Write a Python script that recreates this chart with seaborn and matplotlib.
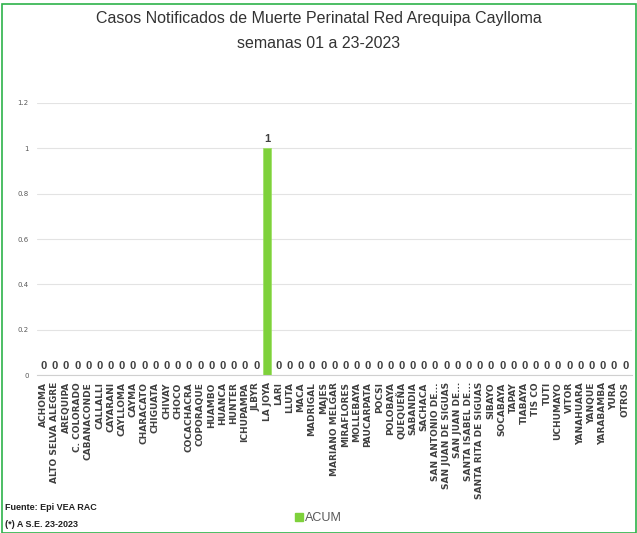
import numpy as np
import pandas as pd
import seaborn as sns
import matplotlib.pyplot as plt
from matplotlib.patches import Rectangle, Patch

# Data
distritos = ['ACHOMA', 'ALTO SELVA ALEGRE', 'AREQUIPA', 'C. COLORADO', 'CABANACONDE',
             'CALLALLI', 'CAYARANI', 'CAYLLOMA', 'CAYMA', 'CHARACATO', 'CHIGUATA',
             'CHIVAY', 'CHOCO', 'COCACHACRA', 'COPORAQUE', 'HUAMBO', 'HUANCA', 'HUNTER',
             'ICHUPAMPA', 'JLBYR', 'LA JOYA', 'LARI', 'LLUTA', 'MACA', 'MADRIGAL', 'MAJES',
             'MARIANO MELGAR', 'MIRAFLORES', 'MOLLEBAYA', 'PAUCARPATA', 'POCSI', 'POLOBAYA',
             'QUEQUEÑA', 'SABANDIA', 'SACHACA', 'SAN ANTONIO DE...', 'SAN JUAN DE SIGUAS',
             'SAN JUAN DE...', 'SANTA ISABEL DE...', 'SANTA RITA DE SIGUAS', 'SIBAYO',
             'SOCABAYA', 'TAPAY', 'TIABAYA', 'TIS CO', 'TUTI', 'UCHUMAYO', 'VITOR',
             'YANAHUARA', 'YANQUE', 'YARABAMBA', 'YURA', 'OTROS']
acum = [0] * 20 + [1] + [0] * 32
yticks = [0, 0.2, 0.4, 0.6, 0.8, 1, 1.2]
ytick_labels = ['0', '0.2', '0.4', '0.6', '0.8', '1', '1.2']

df = pd.DataFrame({'Distrito': distritos, 'ACUM': acum})

sns.set_style('white')
plt.rcParams['font.family'] = ['Liberation Sans Narrow', 'Liberation Sans', 'DejaVu Sans']

fig = plt.figure(figsize=(6.37, 5.33), dpi=100)
ax = fig.add_axes([0.058, 0.296, 0.934, 0.511])

green = '#7ED13B'
sns.barplot(data=df, x='Distrito', y='ACUM', color=green, width=0.7, ax=ax,
            saturation=1, edgecolor='#9BE060', linewidth=0.5)

ax.set_ylim(0, 1.2)
ax.set_xlim(-0.6, len(distritos) - 0.4)
ax.set_yticks(yticks)
ax.set_yticklabels(ytick_labels, fontsize=5, color='#595959', family='DejaVu Sans')
ax.grid(axis='y', color='#e3e3e3', linewidth=0.8)
ax.set_axisbelow(True)
for s in ['top', 'right', 'left']:
    ax.spines[s].set_visible(False)
ax.spines['bottom'].set_color('#d0d0d0')
ax.tick_params(axis='y', length=0, pad=6)
ax.set_xlabel('')
ax.set_ylabel('')
ax.set_xticks(range(len(distritos)))
ax.set_xticklabels(distritos, rotation=90, fontsize=6.5, color='#404040',
                   family='DejaVu Sans', fontweight='bold')
ax.tick_params(axis='x', length=0, pad=5)

# Data labels
for i, v in enumerate(acum):
    ax.text(i, v + 0.02, str(v), ha='center', va='bottom', fontsize=8,
            color='#404040', fontweight='bold')

fig.text(0.5, 0.965, 'Casos Notificados de Muerte Perinatal Red Arequipa Caylloma',
         ha='center', va='center', fontsize=11.5, color='#333333')
fig.text(0.5, 0.918, 'semanas 01 a 23-2023', ha='center', va='center', fontsize=11.5,
         color='#333333')

fig.text(0.008, 0.043, 'Fuente: Epi VEA RAC', fontsize=6.5, fontweight='bold', color='#202020')
fig.text(0.008, 0.012, '(*) A S.E. 23-2023', fontsize=6.5, fontweight='bold', color='#202020')

fig.legend(handles=[Patch(color=green, label='ACUM')], loc='center', bbox_to_anchor=(0.5, 0.028),
           frameon=False, fontsize=9, handlelength=0.6, handleheight=0.6, handletextpad=0.2,
           labelcolor='#595959')

fig.patches.append(Rectangle((0.003, 0.0), 0.996, 0.993, transform=fig.transFigure,
                             fill=False, edgecolor='#2DB34A', linewidth=1.2))

plt.savefig('out.png', dpi=100)
